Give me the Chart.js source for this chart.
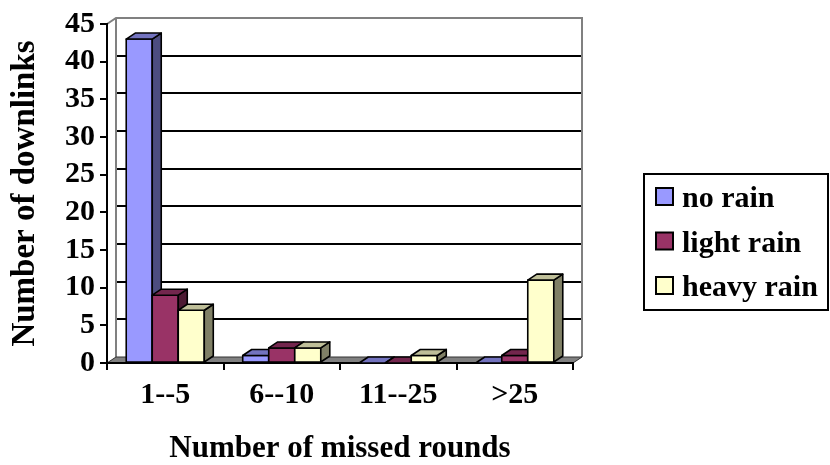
<!DOCTYPE html>
<html>
<head>
<meta charset="utf-8">
<script src="https://cdn.jsdelivr.net/npm/chart.js@4.4.0/dist/chart.umd.min.js"></script>
<style>
  html, body { margin: 0; padding: 0; background: #ffffff; }
  #wrap { width: 830px; height: 465px; }
</style>
</head>
<body>
<div id="wrap"><canvas id="c" width="830" height="465"></canvas></div>
<script>
// Downlinks per band of missed rounds, split by rain condition
const categories = ['1--5', '6--10', '11--25', '>25'];
const seriesNames = ['no rain', 'light rain', 'heavy rain'];
const noRain = [43, 1, 0, 0];
const lightRain = [9, 2, 0, 1];
const heavyRain = [7, 2, 1, 11];
const yMin = 0, yMax = 45, yStep = 5;

const SERIF = "'Liberation Serif', 'Times New Roman', serif";
// front / side / top shading of each column
const faceColors = [
  { front: '#9999FF', side: '#4D4D80', top: '#7373BF' },
  { front: '#993366', side: '#4D1A33', top: '#73264D' },
  { front: '#FFFFCC', side: '#808066', top: '#BFBF99' }
];
const DX = 9, DY = 6; // depth offset of the pseudo-3D box

function poly(ctx, pts, fill, stroke, lw) {
  ctx.beginPath();
  ctx.moveTo(pts[0][0], pts[0][1]);
  for (let i = 1; i < pts.length; i++) ctx.lineTo(pts[i][0], pts[i][1]);
  ctx.closePath();
  if (fill) { ctx.fillStyle = fill; ctx.fill(); }
  if (stroke) { ctx.strokeStyle = stroke; ctx.lineWidth = lw; ctx.stroke(); }
}

const box3d = {
  id: 'box3d',
  beforeDraw(chart) {
    const { ctx, chartArea: a, scales: { y } } = chart;
    const topY = y.getPixelForValue(yMax) - DY;
    const floorBack = y.getPixelForValue(0) - DY;
    ctx.save();
    ctx.fillStyle = '#ffffff';
    ctx.fillRect(0, 0, chart.width, chart.height);
    // back wall grid
    ctx.strokeStyle = '#000000';
    ctx.lineWidth = 2;
    y.ticks.forEach(t => {
      if (t.value <= yMin || t.value >= yMax) return;
      const py = Math.round(y.getPixelForValue(t.value)) - DY;
      ctx.beginPath();
      ctx.moveTo(a.left + DX, py);
      ctx.lineTo(a.right + DX, py);
      ctx.stroke();
    });
    // wall edges
    ctx.strokeStyle = '#808080';
    ctx.lineWidth = 2;
    ctx.beginPath();
    ctx.moveTo(a.left, y.getPixelForValue(yMax));
    ctx.lineTo(a.left + DX, topY);
    ctx.lineTo(a.right + DX, topY);
    ctx.lineTo(a.right + DX, floorBack);
    ctx.moveTo(a.left + DX, topY);
    ctx.lineTo(a.left + DX, floorBack);
    ctx.stroke();
    // floor
    const fy = y.getPixelForValue(0);
    poly(ctx, [[a.left, fy], [a.right, fy], [a.right + DX, fy - DY], [a.left + DX, fy - DY]], '#808080', '#333333', 1);
    ctx.restore();
  },
  afterDatasetsDraw(chart) {
    const ctx = chart.ctx;
    ctx.save();
    ctx.lineJoin = 'round';
    chart.data.datasets.forEach((ds, i) => {
      const c = faceColors[i];
      chart.getDatasetMeta(i).data.forEach(el => {
        const p = el.getProps(['x', 'y', 'base', 'width'], true);
        const l = p.x - p.width / 2, r = p.x + p.width / 2;
        const t = Math.min(p.y, p.base), b = Math.max(p.y, p.base);
        const lw = 1.6;
        if (b - t >= 1) {
          poly(ctx, [[l, b], [l, t], [r, t], [r, b]], c.front, '#000', lw);
          poly(ctx, [[r, b], [r, t], [r + DX, t - DY], [r + DX, b - DY]], c.side, '#000', lw);
        }
        poly(ctx, [[l, t], [r, t], [r + DX, t - DY], [l + DX, t - DY]], c.top, '#000', lw);
      });
    });
    ctx.restore();
  },
  afterDraw(chart) {
    // legend panel
    const ctx = chart.ctx;
    ctx.save();
    ctx.strokeStyle = '#000';
    ctx.lineWidth = 2;
    ctx.strokeRect(644, 174, 184, 136);
    ctx.font = 'bold 30px ' + SERIF;
    ctx.textBaseline = 'alphabetic';
    ctx.textAlign = 'left';
    chart.data.datasets.forEach((ds, i) => {
      const cy = 197 + i * 44.5;
      ctx.fillStyle = faceColors[i].front;
      ctx.fillRect(656, cy - 9, 17, 17);
      ctx.lineWidth = 2;
      ctx.strokeStyle = '#000';
      ctx.strokeRect(656, cy - 9, 17, 17);
      ctx.fillStyle = '#000';
      ctx.fillText(ds.label, 682, cy + 10);
    });
    ctx.restore();
  }
};

const seriesValues = [noRain, lightRain, heavyRain];

new Chart(document.getElementById('c'), {
  type: 'bar',
  data: {
    labels: categories,
    datasets: seriesNames.map((name, i) => ({
      label: name,
      data: seriesValues[i],
      backgroundColor: 'rgba(0,0,0,0)',
      borderWidth: 0,
      barPercentage: 1,
      categoryPercentage: 0.67
    }))
  },
  options: {
    responsive: false,
    animation: false,
    devicePixelRatio: 1,
    layout: { padding: { left: 0, right: 257, top: 24, bottom: 0 } },
    plugins: { legend: { display: false }, tooltip: { enabled: false } },
    scales: {
      x: {
        offset: true,
        grid: { offset: true, drawOnChartArea: false, drawTicks: true, tickLength: 7, color: '#000', lineWidth: 2 },
        border: { display: true, color: '#000', width: 2 },
        ticks: { color: '#000', padding: 7, maxRotation: 0, autoSkip: false, font: { family: SERIF, size: 30, weight: 'bold' } },
        title: { display: true, text: 'Number of missed rounds', color: '#000', padding: { top: 0, bottom: 1 },
                 font: { family: SERIF, size: 31, weight: 'bold', lineHeight: 1 } },
        afterFit(scale) { scale.height = 102; }
      },
      y: {
        min: yMin, max: yMax,
        grid: { drawOnChartArea: false, drawTicks: true, tickLength: 7, color: '#000', lineWidth: 2 },
        border: { display: true, color: '#000', width: 2 },
        ticks: { stepSize: yStep, autoSkip: false, color: '#000', padding: 5, font: { family: SERIF, size: 30, weight: 'bold' } },
        title: { display: true, text: 'Number of downlinks', color: '#000', padding: { top: 9, bottom: 0 },
                 font: { family: SERIF, size: 33, weight: 'bold', lineHeight: 1 } },
        afterFit(scale) { scale.width = 107; }
      }
    }
  },
  plugins: [box3d]
});
</script>
</body>
</html>
